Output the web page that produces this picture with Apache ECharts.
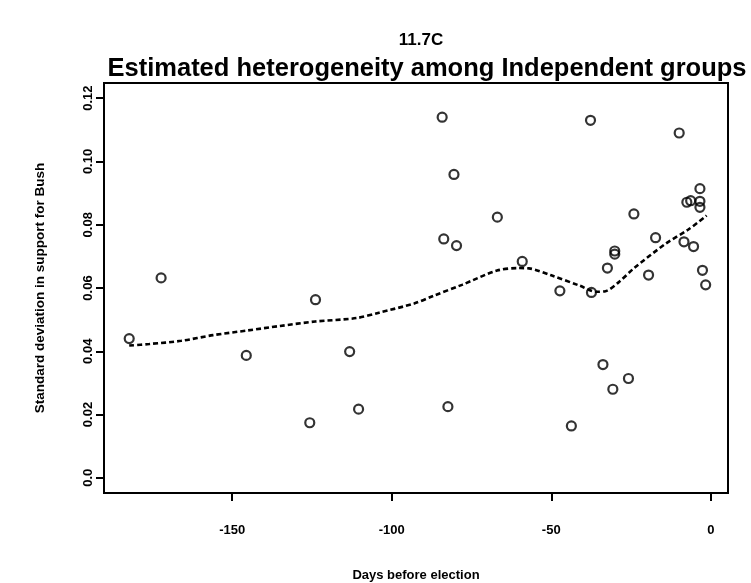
<!DOCTYPE html>
<html>
<head>
<meta charset="utf-8">
<script src="https://cdn.jsdelivr.net/npm/echarts@6/dist/echarts.min.js"></script>
<style>html,body{margin:0;padding:0;background:#fff;}#c{width:751px;height:583px;}</style>
</head>
<body>
<div id="c"></div>
<script>
// Days before election (x) and estimated SD in support for Bush (y) for each poll
const pollDays = [-182.3,-172.3,-145.6,-125.7,-123.9,-113.2,-110.4,-84.2,-83.7,-82.4,-80.5,-79.7,-66.9,-59.1,-47.3,-43.7,-37.7,-37.4,-33.8,-32.4,-30.7,-30.1,-30.1,-25.8,-24.1,-19.5,-17.3,-9.9,-8.4,-7.5,-6.3,-5.4,-3.4,-3.4,-3.4,-2.6,-1.6];
const pollSD   = [0.0440,0.0632,0.0387,0.0174,0.0563,0.0399,0.0217,0.1140,0.0755,0.0225,0.0959,0.0734,0.0824,0.0684,0.0591,0.0164,0.1130,0.0586,0.0358,0.0663,0.0280,0.0717,0.0707,0.0314,0.0834,0.0641,0.0759,0.1090,0.0746,0.0871,0.0876,0.0731,0.0914,0.0874,0.0855,0.0656,0.0610];
// Smoothed (loess) curve
const smoothDays = [-182.3,-176,-166,-156,-145,-135,-124,-111,-104,-93,-87,-78,-67,-60,-57,-50,-41,-36,-33,-29,-24,-14,-7,-1.3];
const smoothSD   = [0.0418,0.0423,0.0433,0.0451,0.0466,0.0480,0.0494,0.0505,0.0522,0.0551,0.0575,0.0610,0.0655,0.0663,0.0662,0.0640,0.0607,0.0588,0.0590,0.0617,0.0663,0.0741,0.0785,0.0829];
// Tick positions
const xTicks = [-150,-100,-50,0];
const yTicks = [0,0.02,0.04,0.06,0.08,0.10,0.12];

const FONT = '"Liberation Sans", Arial, sans-serif';
const chart = echarts.init(document.getElementById('c'), null, {renderer:'canvas'});
chart.setOption({
  backgroundColor:'#fff',
  animation:false,
  title:[
    {text:'11.7C', left:416, top:27, textAlign:'center',
     textStyle:{fontFamily:FONT, fontSize:17, fontWeight:'bold', color:'#000'}},
    {text:'Estimated heterogeneity among Independent groups', left:422, top:51, textAlign:'center',
     textStyle:{fontFamily:FONT, fontSize:25.5, fontWeight:'bold', color:'#000'}}
  ],
  grid:{left:104, right:23, top:83, bottom:90, outerBoundsMode:'none', containLabel:false,
        show:true, borderColor:'#000', borderWidth:2, backgroundColor:'transparent'},
  xAxis:{
    type:'value', min:-190.2, max:5.4,
    name:'Days before election', nameLocation:'middle', nameGap:76,
    nameTextStyle:{fontFamily:FONT, fontSize:13, fontWeight:'bold', color:'#000'},
    axisLine:{show:false, onZero:false},
    splitLine:{show:false},
    axisTick:{show:true, customValues:xTicks, length:8, lineStyle:{color:'#000', width:2}},
    axisLabel:{customValues:xTicks, margin:31, fontFamily:FONT, fontSize:13, fontWeight:'bold', color:'#000',
      formatter:v=>String(v)}
  },
  yAxis:{
    type:'value', min:-0.0048, max:0.1248,
    name:'Standard deviation in support for Bush', nameLocation:'middle', nameGap:57,
    nameTextStyle:{fontFamily:FONT, fontSize:13.5, fontWeight:'bold', color:'#000'},
    axisLine:{show:false, onZero:false},
    splitLine:{show:false},
    axisTick:{show:true, customValues:yTicks, length:8, lineStyle:{color:'#000', width:2}},
    axisLabel:{customValues:yTicks, rotate:90, margin:9, fontFamily:FONT, fontSize:13, fontWeight:'bold', color:'#000',
      formatter:v=> v===0 ? '0.0' : v.toFixed(2)}
  },
  series:[
    {type:'line', data:smoothDays.map((d,i)=>[d,smoothSD[i]]), showSymbol:false, smooth:0.3,
     lineStyle:{color:'#000', width:2.6, type:[5,3]}, silent:true, z:2},
    {type:'scatter', data:pollDays.map((d,i)=>[d,pollSD[i]]), symbol:'circle', symbolSize:9,
     itemStyle:{color:'rgba(255,255,255,0)', borderColor:'#000', borderWidth:2.2}, z:3}
  ]
});
</script>
</body>
</html>
